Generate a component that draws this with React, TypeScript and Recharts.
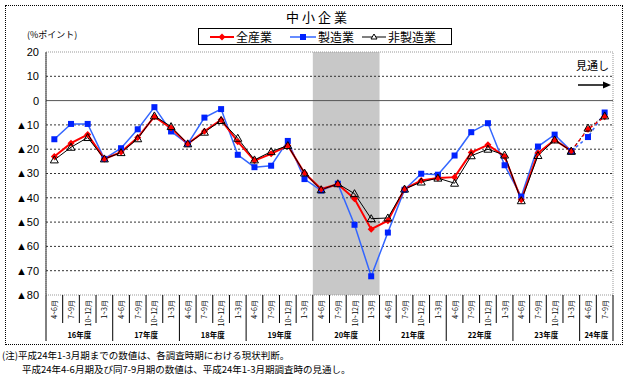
import { ComposedChart, Line, XAxis, YAxis, ReferenceLine, ReferenceArea } from "recharts";

// 年度ごとの四半期数（24年度は7-9月期まで）
const YEARS = ["16年度", "17年度", "18年度", "19年度", "20年度", "21年度", "22年度", "23年度", "24年度"];
const YEAR_QUARTERS = [4, 4, 4, 4, 4, 4, 4, 4, 2];
const QUARTERS = ["4~6月", "7~9月", "10~12月", "1~3月"];
const SHADED_YEAR = "20年度";
const LAST_ACTUAL = 31; // 23年度1~3月期まで実績、以降は見通し

const ALL_IND = [
  -23.0, -17.5, -14.0, -24.0, -21.2, -15.2, -6.6, -11.3, -17.8, -12.6, -7.9, -16.9, -24.7, -21.9, -18.5, -29.8,
  -36.4, -34.4, -40.4, -52.9, -49.4, -36.4, -32.9, -31.9, -31.5, -21.4, -18.2, -23.0, -40.8, -21.6, -16.2, -20.7,
  -11.8, -6.6,
];
const MFG = [
  -15.9, -9.6, -9.6, -24.0, -19.6, -11.8, -2.7, -12.7, -17.8, -7.0, -3.5, -22.3, -27.4, -26.8, -16.6, -32.3,
  -37.0, -34.2, -51.1, -72.3, -54.3, -36.7, -30.1, -30.5, -22.6, -13.0, -9.3, -26.6, -39.5, -18.9, -14.0, -20.8,
  -15.0, -4.9,
];
const NON_MFG = [
  -24.4, -19.2, -15.2, -24.0, -21.4, -15.7, -6.3, -10.7, -17.8, -13.0, -8.2, -15.5, -24.4, -21.0, -18.5, -29.8,
  -36.7, -34.2, -38.3, -48.6, -48.3, -36.4, -33.5, -31.9, -34.0, -22.7, -20.0, -22.4, -41.2, -22.6, -16.2, -20.8,
  -11.3, -6.3,
];

const Y_TICKS = [20, 10, 0, -10, -20, -30, -40, -50, -60, -70, -80];
const GRID_VALUES = [10, -10, -20, -30, -40, -50, -60, -70];

const RED = "#ff0000";
const BLUE = "#3366ff";
const BLUE_MARK = "#0022ff";
const FONT = "'Noto Sans CJK JP', 'Noto Sans', sans-serif";

type Cat = { key: string; year: number; q: number; n: number };
const CATS: Cat[] = YEARS.flatMap((_, y) =>
  Array.from({ length: YEAR_QUARTERS[y] }, (_, q) => ({ key: `${y}-${q}`, year: y, q, n: YEAR_QUARTERS[y] })),
);

const data = CATS.map((c, i) => ({
  cat: c.key,
  all: i <= LAST_ACTUAL ? ALL_IND[i] : null,
  mfg: i <= LAST_ACTUAL ? MFG[i] : null,
  non: i <= LAST_ACTUAL ? NON_MFG[i] : null,
  allF: i >= LAST_ACTUAL ? ALL_IND[i] : null,
  mfgF: i >= LAST_ACTUAL ? MFG[i] : null,
  nonF: i >= LAST_ACTUAL ? NON_MFG[i] : null,
}));

const shadeIdx = YEARS.indexOf(SHADED_YEAR);
const shadeCats = CATS.filter((c) => c.year === shadeIdx);

const diamond = (color: string, r = 3.5) => (p: any) => {
  const k = `d${p.index}`;
  if (p.cx == null || p.cy == null || p.value == null) return <g key={k} />;
  const { cx, cy } = p;
  return <path key={k} d={`M${cx},${cy - r}L${cx + r},${cy}L${cx},${cy + r}L${cx - r},${cy}Z`} fill={color} />;
};
const square = (color: string, s = 3) => (p: any) => {
  const k = `s${p.index}`;
  if (p.cx == null || p.cy == null || p.value == null) return <g key={k} />;
  return <rect key={k} x={p.cx - s} y={p.cy - s} width={s * 2} height={s * 2} fill={color} />;
};
const triangle = (color: string) => (p: any) => {
  const k = `t${p.index}`;
  if (p.cx == null || p.cy == null || p.value == null) return <g key={k} />;
  const { cx, cy } = p;
  return <path key={k} d={`M${cx},${cy - 4}L${cx + 4},${cy + 3}L${cx - 4},${cy + 3}Z`} fill="none" stroke={color} strokeWidth={1} />;
};

function QuarterTick(props: any) {
  const { x, y, payload } = props;
  const i = payload.index;
  const c = CATS[i];
  const half = payload.offset || 8.3;
  const left = x - half;
  const isLast = i === CATS.length - 1;
  return (
    <g>
      <line x1={left} y1={y} x2={left} y2={y + (c.q === 0 ? 46 : 28)} stroke="#000" strokeWidth={1} />
      {isLast && <line x1={x + half} y1={y} x2={x + half} y2={y + 46} stroke="#000" strokeWidth={1} />}
      <text
        transform={`translate(${x},${y + 5}) rotate(-90)`}
        textAnchor="end"
        dominantBaseline="central"
        fontSize={7}
        fontFamily={FONT}
        fill="#000"
      >
        {QUARTERS[c.q]}
      </text>
      {c.q === 0 && (
        <text x={left + c.n * half} y={y + 43} textAnchor="middle" fontSize={7.5} fontWeight="bold" fontFamily={FONT} fill="#000">
          {YEARS[c.year]}
        </text>
      )}
    </g>
  );
}

const yFmt = (v: number) => (v < 0 ? `▲${-v}` : `${v}`);

export default function App() {
  return (
    <div style={{ position: "absolute", left: 0, top: 0, width: 630, height: 378, background: "#fff", fontFamily: FONT }}>
      <div style={{ position: "absolute", left: 5, top: 5, width: 616, height: 338, border: "1px dotted #000" }} />
      <ComposedChart
        width={630}
        height={378}
        data={data}
        margin={{ top: 52, right: 17, left: 0, bottom: 33 }}
        style={{ position: "absolute", left: 0, top: 0 }}
      >
        <XAxis
          dataKey="cat"
          scale="band"
          interval={0}
          height={50}
          axisLine={false}
          tickLine={false}
          tickSize={0}
          tickMargin={0}
          tick={<QuarterTick />}
        />
        <YAxis
          domain={[-80, 20]}
          ticks={Y_TICKS}
          interval={0}
          width={46}
          tickFormatter={yFmt}
          tickLine={false}
          tickSize={0}
          tickMargin={7}
          axisLine={{ stroke: "#333", strokeWidth: 1 }}
          tick={{ fill: "#000", fontSize: 11, fontFamily: "'Liberation Sans', Arial, sans-serif" }}
        />
        <ReferenceArea
          x1={shadeCats[0].key}
          x2={shadeCats[shadeCats.length - 1].key}
          fill="#c8c8c8"
          fillOpacity={1}
          stroke="none"
        />
        <ReferenceArea y1={-80} y2={20} fill="none" stroke="#999" strokeDasharray="1 1" />
        {GRID_VALUES.map((v) => (
          <ReferenceLine key={v} y={v} stroke="#333" strokeDasharray="2 2" />
        ))}
        <ReferenceLine y={0} stroke="#555" strokeWidth={1} />

        <Line dataKey="mfg" stroke={BLUE} strokeWidth={1.5} dot={square(BLUE_MARK)} isAnimationActive={false} />
        <Line dataKey="all" stroke={RED} strokeWidth={2} dot={diamond(RED)} isAnimationActive={false} />
        <Line dataKey="non" stroke="#000" strokeWidth={1} dot={triangle("#000")} isAnimationActive={false} />
        <Line dataKey="mfgF" stroke={BLUE} strokeWidth={1.5} strokeDasharray="3 3" dot={square(BLUE_MARK)} isAnimationActive={false} />
        <Line dataKey="allF" stroke={RED} strokeWidth={1.5} strokeDasharray="3 3" dot={diamond(RED)} isAnimationActive={false} />
        <Line dataKey="nonF" stroke="#000" strokeWidth={1} strokeDasharray="1 2" dot={triangle("#000")} isAnimationActive={false} />
      </ComposedChart>

      <div style={{ position: "absolute", left: 0, width: 630, top: 7, textAlign: "center", fontSize: 13, letterSpacing: 3, paddingLeft: 3 }}>
        中小企業
      </div>
      <div style={{ position: "absolute", left: 27, top: 28, fontSize: 9 }}>(%ポイント)</div>

      <div
        style={{
          position: "absolute",
          left: 198,
          top: 28,
          width: 252,
          height: 15,
          border: "1px solid #000",
          background: "#fff",
          display: "flex",
          alignItems: "center",
          fontSize: 12,
          lineHeight: "15px",
        }}
      >
        <svg width={254} height={15} style={{ position: "absolute", left: 0, top: 0 }}>
          <line x1={11} y1={8} x2={35} y2={8} stroke={RED} strokeWidth={2} />
          <path d="M23,4.5L26.5,8L23,11.5L19.5,8Z" fill={RED} />
          <line x1={91} y1={8} x2={117} y2={8} stroke={BLUE} strokeWidth={1.5} />
          <rect x={101} y={5} width={6} height={6} fill={BLUE_MARK} />
          <line x1={163} y1={8} x2={187} y2={8} stroke="#000" strokeWidth={1} />
          <path d="M175,5L178,10L172,10Z" fill="#fff" stroke="#000" />
        </svg>
        <span style={{ position: "absolute", left: 37, top: 0 }}>全産業</span>
        <span style={{ position: "absolute", left: 119, top: 0 }}>製造業</span>
        <span style={{ position: "absolute", left: 189, top: 0 }}>非製造業</span>
      </div>

      <div style={{ position: "absolute", left: 576, top: 57, fontSize: 11 }}>見通し</div>
      <svg width={630} height={378} style={{ position: "absolute", left: 0, top: 0, pointerEvents: "none" }}>
        <line x1={578} y1={85} x2={604} y2={85} stroke="#000" strokeWidth={1.5} />
        <path d="M611,85L603,81.5L603,88.5Z" fill="#000" />
      </svg>

      <div style={{ position: "absolute", left: 2, top: 348, fontSize: 9.5, whiteSpace: "nowrap", lineHeight: "14px" }}>
        (注)平成24年1-3月期までの数値は、各調査時期における現状判断。
        <br />
        <span style={{ paddingLeft: 20 }}>平成24年4-6月期及び同7-9月期の数値は、平成24年1-3月期調査時の見通し。</span>
      </div>
    </div>
  );
}
